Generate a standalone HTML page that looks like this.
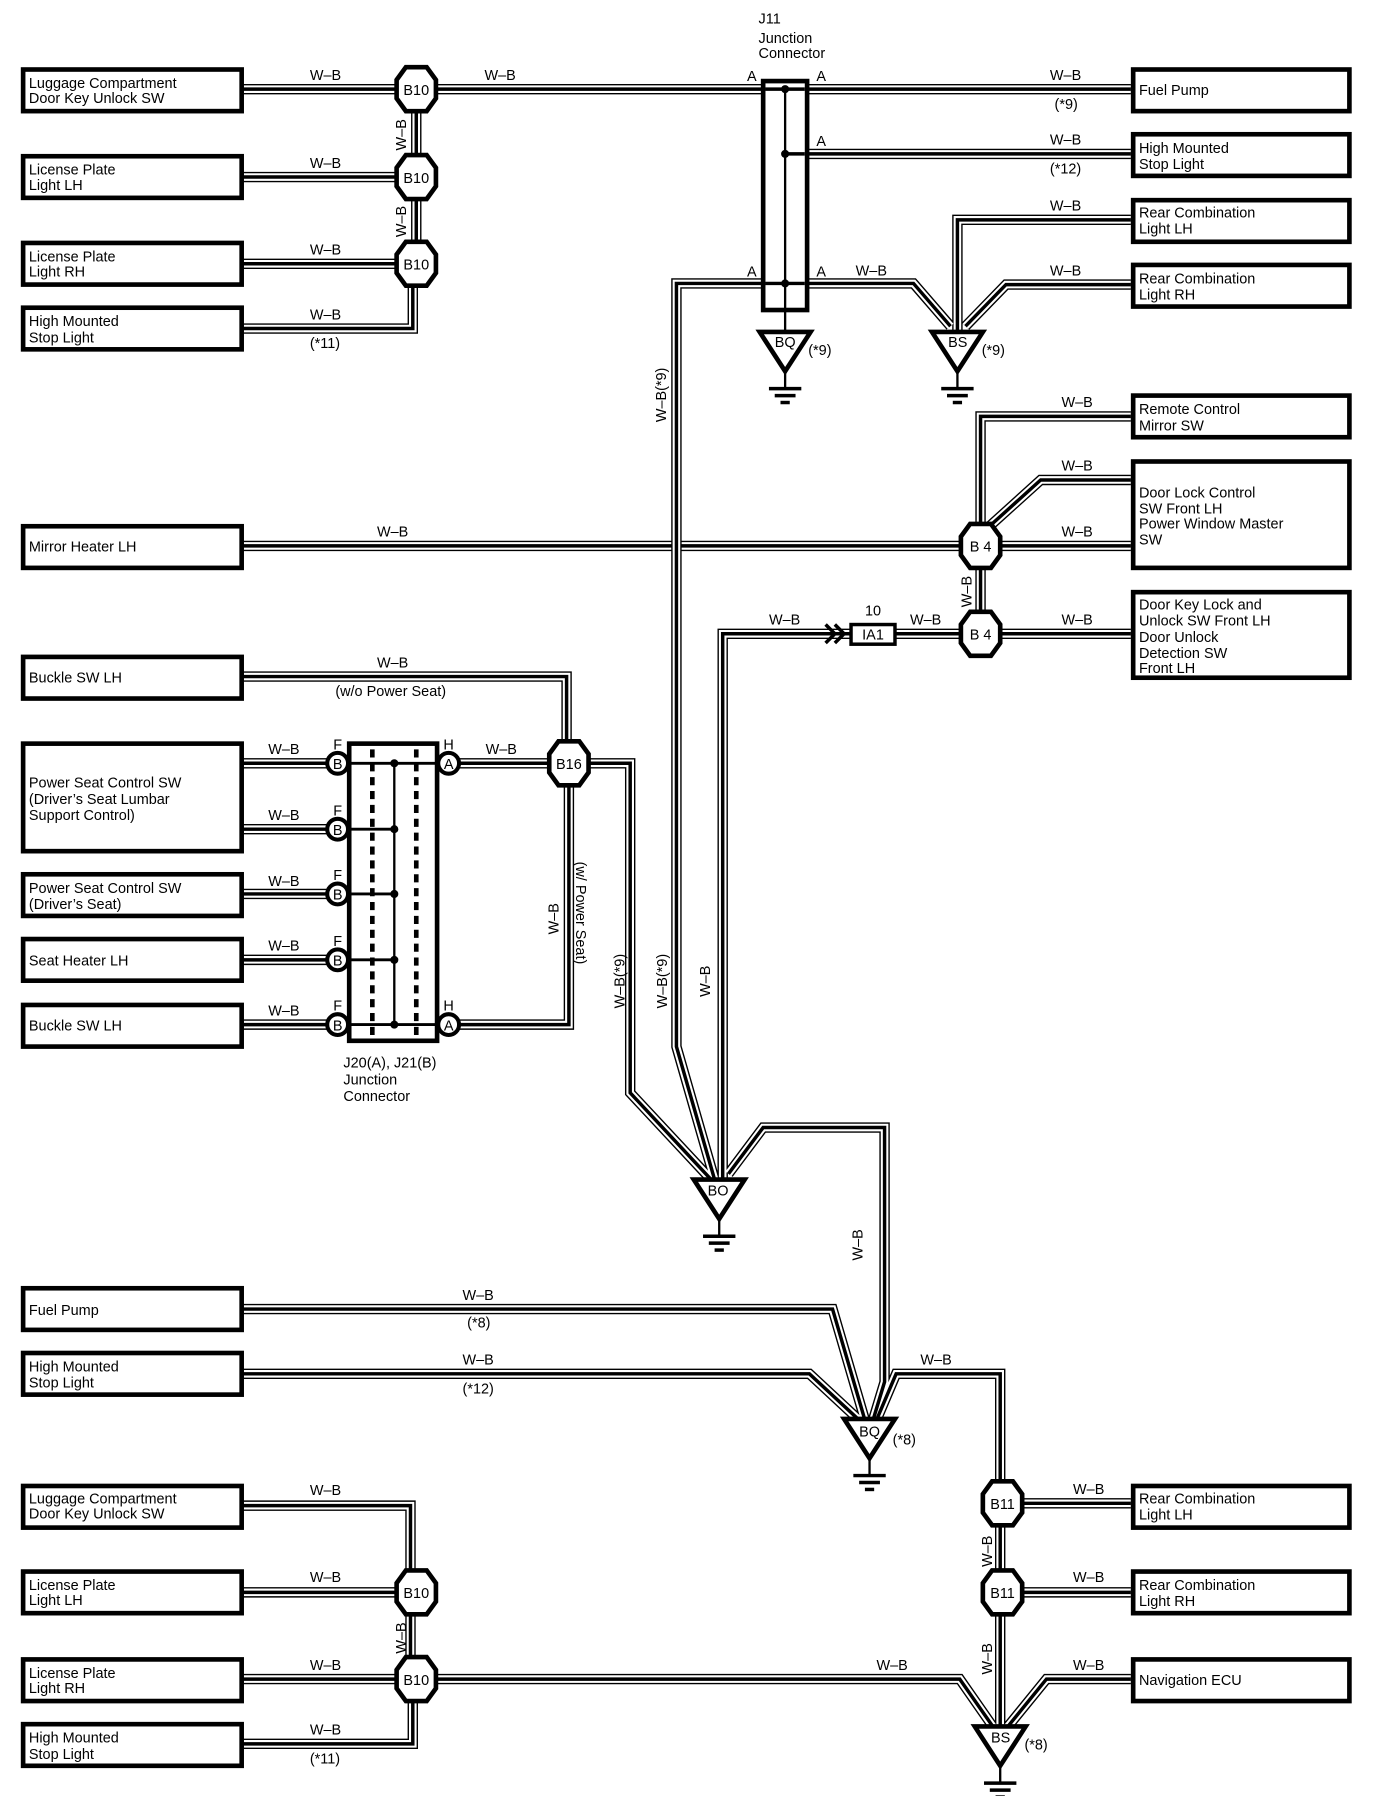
<!DOCTYPE html>
<html><head><meta charset="utf-8"><style>
html,body{margin:0;padding:0;background:#fff;}
svg{display:block;}
text{font-family:"Liberation Sans",sans-serif;font-size:12.5px;fill:#000;}
.bx{fill:#fff;stroke:#000;stroke-width:4;}
.o{fill:#fff;stroke:#000;stroke-width:4;}
.wa{fill:none;stroke:#000;stroke-width:9;stroke-linejoin:miter;}
.wb{fill:none;stroke:#fff;stroke-width:6.6;stroke-linejoin:miter;}
.wc{fill:none;stroke:#000;stroke-width:3;stroke-linejoin:miter;}
</style></head><body>
<svg width="1376" height="1796" viewBox="0 0 1190 1553" xmlns="http://www.w3.org/2000/svg">
<defs>
<path id="W0" d="M210 472H848"/>
<path id="W" d="
M210 77H660 M698 77H978
M210 153H360 M210 228H360 M210 284H357V228 M360 77V228
M698 133H978
M978 190H828V290
M978 246H870L835 282
M698 245H790L822 282
M660 245H585V905L618 1020
M978 360H848V472
M978 415H900L848 462
M848 472H978
M848 472V548H978
M735 548H625V1020 M775 548H848
M210 585H490V660
M210 660H292 M388 660H492 M210 717H292 M210 773H292 M210 830H292 M210 886H292
M388 886H492V660
M492 660H545V945L615 1020
M630 1015L660 975H765V1195L755 1228
M210 1132H720L748 1228
M210 1188H700L743 1228
M758 1228L775 1188H865V1500
M867 1300H978 M867 1377H978
M978 1452H905L870 1495
M360 1452H830L860 1495
M210 1302H355V1452 M210 1377H360 M210 1452H360 M210 1508H357V1452
"/>
</defs>
<use href="#W0" class="wa"/><use href="#W0" class="wb"/><use href="#W0" class="wc"/>
<use href="#W" class="wa"/><use href="#W" class="wb"/><use href="#W" class="wc"/>

<g class="bx">
<rect x="20" y="60" width="189" height="36"/>
<rect x="20" y="135" width="189" height="36"/>
<rect x="20" y="210" width="189" height="36"/>
<rect x="20" y="266" width="189" height="36"/>
<rect x="20" y="455" width="189" height="36"/>
<rect x="20" y="568" width="189" height="36"/>
<rect x="20" y="643" width="189" height="93"/>
<rect x="20" y="756" width="189" height="36"/>
<rect x="20" y="812" width="189" height="36"/>
<rect x="20" y="869" width="189" height="36"/>
<rect x="20" y="1114" width="189" height="36"/>
<rect x="20" y="1170" width="189" height="36"/>
<rect x="20" y="1285" width="189" height="36"/>
<rect x="20" y="1359" width="189" height="36"/>
<rect x="20" y="1435" width="189" height="36"/>
<rect x="20" y="1491" width="189" height="36"/>
<rect x="980" y="60" width="187" height="36"/>
<rect x="980" y="116" width="187" height="36"/>
<rect x="980" y="173" width="187" height="36"/>
<rect x="980" y="229" width="187" height="36"/>
<rect x="980" y="342" width="187" height="36"/>
<rect x="980" y="399" width="187" height="92"/>
<rect x="980" y="512" width="187" height="74"/>
<rect x="980" y="1285" width="187" height="36"/>
<rect x="980" y="1359" width="187" height="36"/>
<rect x="980" y="1435" width="187" height="36"/>
</g>
<g>
<text x="25" y="76">Luggage Compartment</text><text x="25" y="89">Door Key Unlock SW</text>
<text x="25" y="151">License Plate</text><text x="25" y="164">Light LH</text>
<text x="25" y="226">License Plate</text><text x="25" y="239">Light RH</text>
<text x="25" y="282">High Mounted</text><text x="25" y="296">Stop Light</text>
<text x="25" y="477">Mirror Heater LH</text>
<text x="25" y="590">Buckle SW LH</text>
<text x="25" y="681">Power Seat Control SW</text><text x="25" y="695">(Driver’s Seat Lumbar</text><text x="25" y="709"> Support Control)</text>
<text x="25" y="772">Power Seat Control SW</text><text x="25" y="786">(Driver’s Seat)</text>
<text x="25" y="835">Seat Heater LH</text>
<text x="25" y="891">Buckle SW LH</text>
<text x="25" y="1137">Fuel Pump</text>
<text x="25" y="1186">High Mounted</text><text x="25" y="1200">Stop Light</text>
<text x="25" y="1300">Luggage Compartment</text><text x="25" y="1313">Door Key Unlock SW</text>
<text x="25" y="1375">License Plate</text><text x="25" y="1388">Light LH</text>
<text x="25" y="1451">License Plate</text><text x="25" y="1464">Light RH</text>
<text x="25" y="1507">High Mounted</text><text x="25" y="1521">Stop Light</text>
<text x="985" y="82">Fuel Pump</text>
<text x="985" y="132">High Mounted</text><text x="985" y="146">Stop Light</text>
<text x="985" y="188">Rear Combination</text><text x="985" y="202">Light LH</text>
<text x="985" y="245">Rear Combination</text><text x="985" y="259">Light RH</text>
<text x="985" y="358">Remote Control</text><text x="985" y="372">Mirror SW</text>
<text x="985" y="430">Door Lock Control</text><text x="985" y="444">SW Front LH</text><text x="985" y="457">Power Window Master</text><text x="985" y="471">SW</text>
<text x="985" y="527">Door Key Lock and</text><text x="985" y="541">Unlock SW Front LH</text><text x="985" y="555">Door Unlock</text><text x="985" y="569">Detection SW</text><text x="985" y="582">Front LH</text>
<text x="985" y="1300">Rear Combination</text><text x="985" y="1314">Light LH</text>
<text x="985" y="1375">Rear Combination</text><text x="985" y="1389">Light RH</text>
<text x="985" y="1457">Navigation ECU</text>
</g>

<rect x="660" y="70" width="38" height="198" fill="#fff" stroke="#000" stroke-width="4"/>
<line x1="679" y1="77" x2="679" y2="290" stroke="#000" stroke-width="2"/>
<line x1="662" y1="77" x2="696" y2="77" stroke="#000" stroke-width="3"/>
<line x1="679" y1="133" x2="696" y2="133" stroke="#000" stroke-width="3"/>
<line x1="662" y1="245" x2="696" y2="245" stroke="#000" stroke-width="3"/>
<circle cx="679" cy="77" r="3.5"/><circle cx="679" cy="133" r="3.5"/><circle cx="679" cy="245" r="3.5"/>
<text x="656" y="20">J11</text><text x="656" y="37">Junction</text><text x="656" y="50">Connector</text>
<text x="646" y="70">A</text><text x="706" y="70">A</text><text x="706" y="126">A</text>
<text x="646" y="239">A</text><text x="706" y="239">A</text>

<rect x="302" y="643" width="76" height="257" fill="#fff" stroke="#000" stroke-width="4"/>
<line x1="322" y1="648" x2="322" y2="898" stroke="#000" stroke-width="4" stroke-dasharray="7,5"/>
<line x1="360" y1="648" x2="360" y2="898" stroke="#000" stroke-width="4" stroke-dasharray="7,5"/>
<line x1="341" y1="660" x2="341" y2="886" stroke="#000" stroke-width="2"/>
<g stroke="#000" stroke-width="2.5"><line x1="302" y1="660" x2="378" y2="660"/><line x1="302" y1="717" x2="341" y2="717"/><line x1="302" y1="773" x2="341" y2="773"/><line x1="302" y1="830" x2="341" y2="830"/><line x1="302" y1="886" x2="378" y2="886"/></g>
<circle cx="341" cy="660" r="3.5"/><circle cx="341" cy="717" r="3.5"/><circle cx="341" cy="773" r="3.5"/><circle cx="341" cy="830" r="3.5"/><circle cx="341" cy="886" r="3.5"/>
<g fill="#fff" stroke="#000" stroke-width="3.5">
<circle cx="292" cy="660" r="9"/><circle cx="292" cy="717" r="9"/><circle cx="292" cy="773" r="9"/><circle cx="292" cy="830" r="9"/><circle cx="292" cy="886" r="9"/>
<circle cx="388" cy="660" r="9"/><circle cx="388" cy="886" r="9"/></g>
<g text-anchor="middle"><text x="292" y="665">B</text><text x="292" y="722">B</text><text x="292" y="778">B</text><text x="292" y="835">B</text><text x="292" y="891">B</text><text x="388" y="665">A</text><text x="388" y="891">A</text>
<text x="292" y="648">F</text><text x="292" y="705">F</text><text x="292" y="761">F</text><text x="292" y="818">F</text><text x="292" y="874">F</text><text x="388" y="648">H</text><text x="388" y="874">H</text></g>
<text x="297" y="923">J20(A), J21(B)</text><text x="297" y="938">Junction</text><text x="297" y="952">Connector</text>

<rect x="736" y="540" width="38" height="17" fill="#fff" stroke="#000" stroke-width="3"/>
<text x="755" y="553" text-anchor="middle">IA1</text><text x="755" y="532" text-anchor="middle">10</text>
<path d="M714 540l8 8-8 8 M722 540l8 8-8 8" fill="none" stroke="#000" stroke-width="3"/>

<defs><polygon id="oct" points="-9,-19 9,-19 17,-8 17,8 9,19 -9,19 -17,8 -17,-8"/></defs>
<g class="o">
<use href="#oct" x="360" y="77"/><use href="#oct" x="360" y="153"/><use href="#oct" x="360" y="228"/>
<use href="#oct" x="848" y="472"/><use href="#oct" x="848" y="548"/><use href="#oct" x="492" y="660"/>
<use href="#oct" x="867" y="1300"/><use href="#oct" x="867" y="1377"/>
<use href="#oct" x="360" y="1377"/><use href="#oct" x="360" y="1452"/>
</g>
<g text-anchor="middle">
<text x="360" y="82">B10</text><text x="360" y="158">B10</text><text x="360" y="233">B10</text>
<text x="848" y="477">B 4</text><text x="848" y="553">B 4</text><text x="492" y="665">B16</text>
<text x="867" y="1305">B11</text><text x="867" y="1382">B11</text>
<text x="360" y="1382">B10</text><text x="360" y="1457">B10</text>
</g>

<defs><g id="gnd"><polygon points="-22,0 22,0 0,34" fill="#fff" stroke="#000" stroke-width="4"/>
<line x1="0" y1="34" x2="0" y2="48" stroke="#000" stroke-width="2"/>
<line x1="-14" y1="49" x2="14" y2="49" stroke="#000" stroke-width="3"/>
<line x1="-9" y1="55" x2="9" y2="55" stroke="#000" stroke-width="3"/>
<line x1="-4" y1="61" x2="4" y2="61" stroke="#000" stroke-width="3"/></g></defs>
<use href="#gnd" x="679" y="287"/><use href="#gnd" x="828" y="287"/>
<use href="#gnd" x="622" y="1020"/><use href="#gnd" x="752" y="1227"/><use href="#gnd" x="865" y="1493"/>
<text x="670" y="300">BQ</text><text x="699" y="307">(*9)</text>
<text x="820" y="300">BS</text><text x="849" y="307">(*9)</text>
<text x="612" y="1034">BO</text>
<text x="743" y="1242">BQ</text><text x="772" y="1249">(*8)</text>
<text x="857" y="1507">BS</text><text x="886" y="1513">(*8)</text>

<g>
<text x="268" y="69">W–B</text><text x="419" y="69">W–B</text><text x="908" y="69">W–B</text><text x="912" y="94">(*9)</text>
<text x="268" y="145">W–B</text><text x="268" y="220">W–B</text><text x="268" y="276">W–B</text><text x="268" y="301">(*11)</text>
<text x="908" y="125">W–B</text><text x="908" y="150">(*12)</text>
<text x="908" y="182">W–B</text><text x="908" y="238">W–B</text><text x="740" y="238">W–B</text>
<text x="918" y="352">W–B</text><text x="918" y="407">W–B</text><text x="918" y="464">W–B</text><text x="918" y="540">W–B</text>
<text x="326" y="464">W–B</text><text x="665" y="540">W–B</text><text x="787" y="540">W–B</text>
<text x="326" y="577">W–B</text><text x="290" y="602">(w/o Power Seat)</text>
<text x="232" y="652">W–B</text><text x="420" y="652">W–B</text><text x="232" y="709">W–B</text><text x="232" y="766">W–B</text><text x="232" y="822">W–B</text><text x="232" y="878">W–B</text>
<text x="400" y="1124">W–B</text><text x="404" y="1148">(*8)</text>
<text x="400" y="1180">W–B</text><text x="400" y="1205">(*12)</text>
<text x="796" y="1180">W–B</text>
<text x="928" y="1292">W–B</text><text x="928" y="1368">W–B</text><text x="928" y="1444">W–B</text>
<text x="758" y="1444">W–B</text>
<text x="268" y="1293">W–B</text><text x="268" y="1368">W–B</text><text x="268" y="1444">W–B</text><text x="268" y="1500">W–B</text><text x="268" y="1525">(*11)</text>
</g>
<g>
<text transform="translate(351,130) rotate(-90)">W–B</text>
<text transform="translate(351,205) rotate(-90)">W–B</text>
<text transform="translate(576,365) rotate(-90)">W–B(*9)</text>
<text transform="translate(840,525) rotate(-90)">W–B</text>
<text transform="translate(483,808) rotate(-90)">W–B</text>
<text transform="translate(498,745) rotate(90)">(w/ Power Seat)</text>
<text transform="translate(540,872) rotate(-90)">W–B(*9)</text>
<text transform="translate(577,872) rotate(-90)">W–B(*9)</text>
<text transform="translate(614,862) rotate(-90)">W–B</text>
<text transform="translate(746,1090) rotate(-90)">W–B</text>
<text transform="translate(858,1355) rotate(-90)">W–B</text>
<text transform="translate(858,1448) rotate(-90)">W–B</text>
<text transform="translate(351,1430) rotate(-90)">W–B</text>
</g>
</svg>
</body></html>
